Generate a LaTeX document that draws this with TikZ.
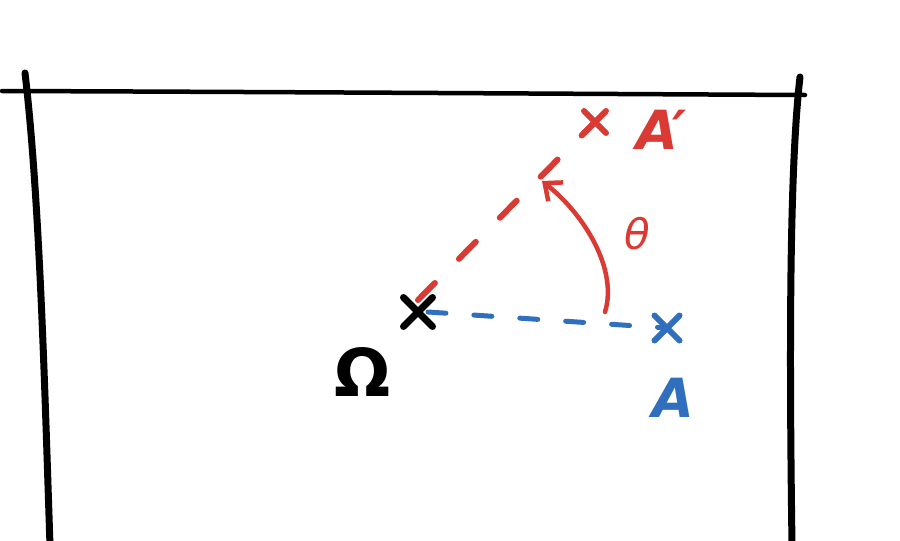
\documentclass[tikz,border=0pt]{standalone}
\usepackage{fontspec}
\setmainfont{DejaVu Sans}
\usetikzlibrary{shapes.misc,arrows.meta}
\definecolor{sketchred}{RGB}{217,58,51}
\definecolor{sketchblue}{RGB}{47,111,189}
\tikzset{
  wall/.style={black, line width=7pt, line cap=round},
  xmark/.style={cross out, draw, line cap=round, inner sep=0pt},
  lbl/.style={font=\fontsize{54}{54}\selectfont\bfseries\itshape},
}
\begin{document}
\begin{tikzpicture}[x=1pt,y=-1pt]
\useasboundingbox (0,0) rectangle (900,541);

% ceiling and walls
\draw[black, line width=4.5pt, line cap=round] (2,91) .. controls (300,92) and (600,94) .. (805,95);
\draw[wall] (25,73) .. controls (40,200) and (45,400) .. (50,545);
\draw[wall] (800,77) .. controls (788,180) and (790,400) .. (792,545);

% points
\node[xmark, black, line width=7pt, minimum size=22pt] (O) at (418,312) {};
\node[xmark, sketchblue, line width=6pt, minimum size=19pt] (A) at (667,328) {};
\node[xmark, sketchred, line width=6pt, minimum size=16pt] (Ap) at (595,122) {};

% dashed rays
\draw[sketchblue, line width=5pt, line cap=round, dash pattern=on 18pt off 28pt] (O.center) ++(10,0) -- (A.center);
\draw[sketchred, line width=6pt, line cap=round, dash pattern=on 24pt off 34pt] (O.center) ++(0,-12) -- (Ap.center);

% rotation
\coordinate (rs) at (605,312);
\coordinate (re) at (542,181);
\draw[sketchred, line width=4.5pt, line cap=round, -{Straight Barb[length=14pt,width=24pt,line width=4.5pt]}] (rs) .. controls (618,270) and (585,215) .. (re);

% labels
\node[black, font=\fontsize{66}{66}\selectfont\bfseries] (omega) at (363,372) {Ω};
\node[lbl, sketchblue] (la) at (673,398) {A};
\node[lbl, sketchred] (lap) at (662,130) {A\kern-6pt′};
\node[sketchred, font=\fontsize{42}{42}\selectfont\itshape] (theta) at (637,234) {θ};
\end{tikzpicture}
\end{document}
